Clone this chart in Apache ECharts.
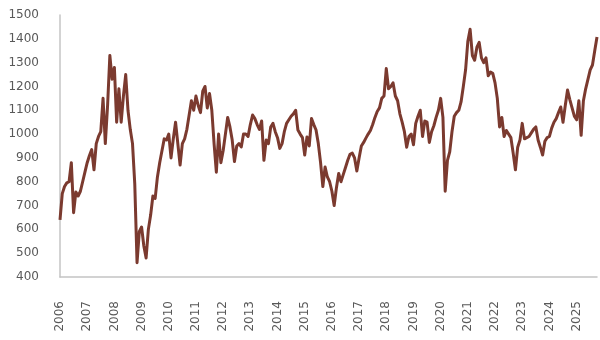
<!DOCTYPE html>
<html>
<head>
<meta charset="utf-8">
<script src="https://cdn.jsdelivr.net/npm/echarts@6/dist/echarts.min.js"></script>
<style>html,body{margin:0;padding:0;background:#fff;}#c{width:600px;height:340px;}</style>
</head>
<body>
<div id="c"></div>
<script>
// Monthly values, Jan 2006 .. Oct 2025
var startYear = 2006, startMonth = 1;
var v2006 = [640, 750, 780, 795, 800, 880, 670, 757, 740, 760, 800, 840];
var v2007 = [880, 910, 935, 850, 960, 990, 1010, 1150, 960, 1120, 1330, 1230];
var v2008 = [1280, 1050, 1190, 1050, 1160, 1250, 1100, 1020, 960, 790, 460, 590];
var v2009 = [610, 530, 480, 600, 660, 740, 730, 820, 880, 930, 980, 975];
var v2010 = [1000, 900, 980, 1050, 960, 870, 960, 980, 1020, 1080, 1140, 1100];
var v2011 = [1160, 1120, 1090, 1180, 1200, 1110, 1170, 1100, 960, 840, 1000, 880];
var v2012 = [930, 1000, 1070, 1030, 975, 885, 950, 960, 946, 1000, 1000, 990];
var v2013 = [1040, 1080, 1065, 1040, 1020, 1055, 890, 975, 960, 1030, 1045, 1010];
var v2014 = [985, 940, 960, 1010, 1045, 1060, 1075, 1085, 1100, 1017, 1000, 985];
var v2015 = [912, 988, 950, 1065, 1040, 1017, 960, 880, 780, 862, 820, 800];
var v2016 = [760, 700, 775, 835, 800, 830, 860, 890, 915, 920, 900, 845];
var v2017 = [900, 950, 965, 983, 1000, 1015, 1040, 1070, 1095, 1110, 1150, 1160];
var v2018 = [1275, 1190, 1200, 1215, 1160, 1140, 1085, 1050, 1010, 945, 990, 1000];
var v2019 = [955, 1045, 1075, 1100, 990, 1055, 1050, 965, 1010, 1035, 1070, 1100];
var v2020 = [1150, 1070, 760, 890, 925, 1010, 1075, 1090, 1100, 1135, 1200, 1270];
var v2021 = [1390, 1440, 1330, 1310, 1365, 1385, 1320, 1300, 1320, 1245, 1260, 1255];
var v2022 = [1215, 1150, 1030, 1070, 990, 1015, 1000, 985, 920, 850, 945, 975];
var v2023 = [1045, 980, 985, 990, 1005, 1020, 1030, 975, 945, 912, 970, 985];
var v2024 = [990, 1025, 1050, 1065, 1090, 1114, 1050, 1120, 1185, 1145, 1110, 1075];
var v2025 = [1060, 1140, 995, 1140, 1190, 1230, 1270, 1290, 1350, 1408];

var yTicks = [400, 500, 600, 700, 800, 900, 1000, 1100, 1200, 1300, 1400, 1500];

var values = [].concat(v2006, v2007, v2008, v2009, v2010, v2011, v2012, v2013,
  v2014, v2015, v2016, v2017, v2018, v2019, v2020, v2021, v2022, v2023, v2024, v2025);
var categories = [];
var y = startYear, m = startMonth;
for (var i = 0; i < values.length; i++) {
  categories.push(y + '-' + (m < 10 ? '0' + m : m));
  m++; if (m > 12) { m = 1; y++; }
}

var chart = echarts.init(document.getElementById('c'), null, {renderer: 'canvas'});
chart.setOption({
  animation: false,
  grid: {left: 60, right: 3, top: 15, bottom: 63},
  xAxis: [{
    type: 'category',
    data: categories,
    boundaryGap: false,
    axisLine: {show: true, lineStyle: {color: '#c4c4c4', width: 1.5}},
    axisTick: {show: false},
    splitLine: {show: false},
    axisLabel: {
      show: true,
      rotate: 90,
      margin: 24,
      interval: 11,
      color: '#595959',
      fontFamily: 'DejaVu Sans',
      fontSize: 12,
      formatter: function (val) { return val.slice(0, 4); }
    }
  }],
  yAxis: [{
    type: 'value',
    min: yTicks[0],
    max: yTicks[yTicks.length - 1],
    interval: 100,
    axisLine: {show: true, lineStyle: {color: '#c4c4c4', width: 1.5}},
    axisTick: {show: false},
    splitLine: {show: false},
    axisLabel: {
      margin: 21,
      color: '#595959',
      fontFamily: 'DejaVu Sans',
      fontSize: 12,
      formatter: function (v) { return String(v); }
    }
  }],
  series: [{
    type: 'line',
    data: values,
    showSymbol: false,
    symbol: 'none',
    lineStyle: {color: '#7b3a2f', width: 3, join: 'round'}
  }]
});
</script>
</body>
</html>
